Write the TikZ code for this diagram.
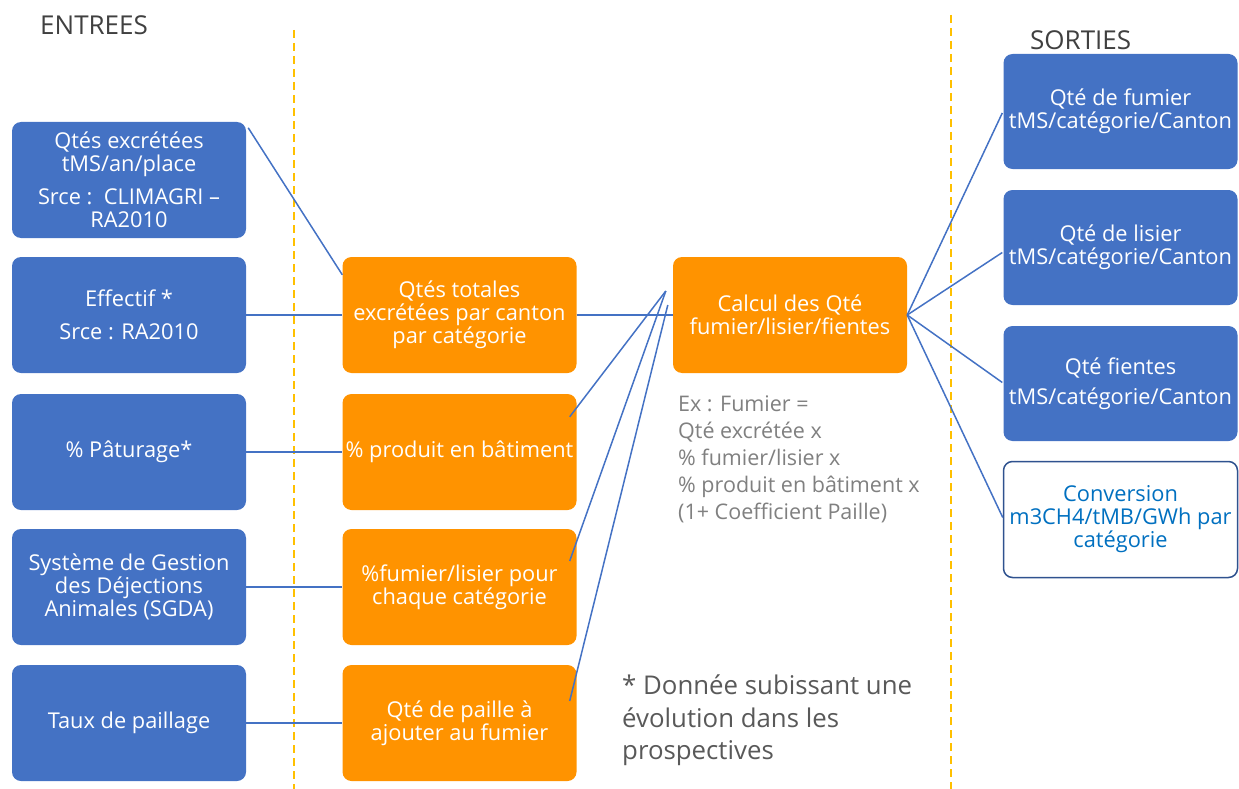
\documentclass[tikz,border=0pt]{standalone}
\usepackage{fontspec}
\setmainfont{Open Sans}
\usetikzlibrary{calc}
\definecolor{boxblue}{HTML}{4472C4}
\definecolor{boxorange}{HTML}{FF9300}
\definecolor{linkblue}{HTML}{4472C4}
\definecolor{guide}{HTML}{FFC000}
\definecolor{convtext}{HTML}{0070C0}
\definecolor{convedge}{HTML}{2F528F}
\definecolor{notegray}{HTML}{808080}
\definecolor{footgray}{HTML}{595959}
\definecolor{titlegray}{HTML}{404040}
\begin{document}
\begin{tikzpicture}[x=1pt,y=-1pt,
  box/.style={rounded corners=9pt, minimum width=234pt, minimum height=116pt,
    align=center, inner sep=0pt, font=\fontsize{21.8}{23}\selectfont},
  inbox/.style={box, fill=boxblue, text=white},
  midbox/.style={box, fill=boxorange, text=white},
  outbox/.style={box, fill=boxblue, text=white, minimum height=115pt},
  convbox/.style={box, fill=white, draw=convedge, line width=1.5pt, text=convtext, minimum height=116pt},
  link/.style={draw=linkblue, line width=1.5pt},
  guideline/.style={draw=guide, line width=2pt, dash pattern=on 8pt off 5pt},
  title/.style={font=\fontsize{26}{30}\selectfont, text=titlegray, inner sep=0pt}]
\useasboundingbox (0,0) rectangle (1239,789);

% column separators
\coordinate (g1a) at (294,30);  \coordinate (g1b) at (294,789);
\coordinate (g2a) at (951,15);  \coordinate (g2b) at (951,789);
\draw[guideline] (g1a) -- (g1b);
\draw[guideline] (g2a) -- (g2b);

% headings
\node[title, anchor=west] (tin) at (40,25) {ENTREES};
\node[title, anchor=west] (tout) at (1030,40) {SORTIES};

% inputs
\node[inbox] (b1) at (129,180) {Qtés excrétées\\tMS/an/place\\[10pt]Srce :\ \ CLIMAGRI –\\RA2010};
\node[inbox] (b2) at (129,315) {Effectif *\\[10pt]Srce : RA2010};
\node[inbox] (b3) at (129,452) {\% Pâturage*};
\node[inbox] (b4) at (129,587) {Système de Gestion\\des Déjections\\Animales (SGDA)};
\node[inbox] (b5) at (129,723) {Taux de paillage};

% intermediate quantities
\node[midbox] (o1) at (459.5,315) {Qtés totales\\excrétées par canton\\par catégorie};
\node[midbox] (o2) at (459.5,452) {\% produit en bâtiment};
\node[midbox] (o3) at (459.5,587) {\%fumier/lisier pour\\chaque catégorie};
\node[midbox] (o4) at (459.5,723) {Qté de paille à\\ajouter au fumier};

% calculation
\node[midbox] (calc) at (790,315) {Calcul des Qté\\fumier/lisier/fientes};

% outputs
\node[outbox] (r1) at (1120.5,111.5) {Qté de fumier\\tMS/catégorie/Canton};
\node[outbox] (r2) at (1120.5,247.5) {Qté de lisier\\tMS/catégorie/Canton};
\node[outbox] (r3) at (1120.5,383.5) {Qté fientes\\[7pt]tMS/catégorie/Canton};
\node[convbox] (r4) at (1120.5,519.5) {Conversion\\m3CH4/tMB/GWh par\\catégorie};

% formula and footnote
\node[anchor=north west, align=left, inner sep=0pt, text=notegray,
  font=\fontsize{21.5}{27}\selectfont] (ex) at (678,396)
  {Ex : Fumier =\\Qté excrétée x\\\% fumier/lisier x\\\% produit en bâtiment x\\(1+ Coefficient Paille)};
\node[anchor=north west, align=left, inner sep=0pt, text=footgray,
  font=\fontsize{25.8}{32.5}\selectfont] (foot) at (622,675)
  {* Donnée subissant une\\évolution dans les\\prospectives};

% meeting points on the left of the calculation
\coordinate (m1) at ($(calc.west)+(-7,-24)$);
\coordinate (m2) at ($(calc.west)+(-5,-10)$);

% connectors
\draw[link] ($(b1.north east)+(2,6)$) -- ($(o1.north west)+(0,18)$);
\draw[link] (b2.east) -- (o1.west);
\draw[link] (b3.east) -- (o2.west);
\draw[link] (b4.east) -- (o3.west);
\draw[link] (b5.east) -- (o4.west);
\draw[link] (o1.east) -- (calc.west);
\draw[link] ($(o2.north east)+(-7,23)$) -- (m1);
\draw[link] ($(o3.east)+(-7,-26)$) -- (m1);
\draw[link] ($(o4.east)+(-7,-22)$) -- (m2);
\draw[link] (calc.east) -- ($(r1.west)+(-1,1.5)$);
\draw[link] (calc.east) -- ($(r2.west)+(-1,5)$);
\draw[link] (calc.east) -- ($(r3.west)+(-1,-1)$);
\draw[link] (calc.east) -- ($(r4.west)+(0,-2)$);
\end{tikzpicture}
\end{document}
